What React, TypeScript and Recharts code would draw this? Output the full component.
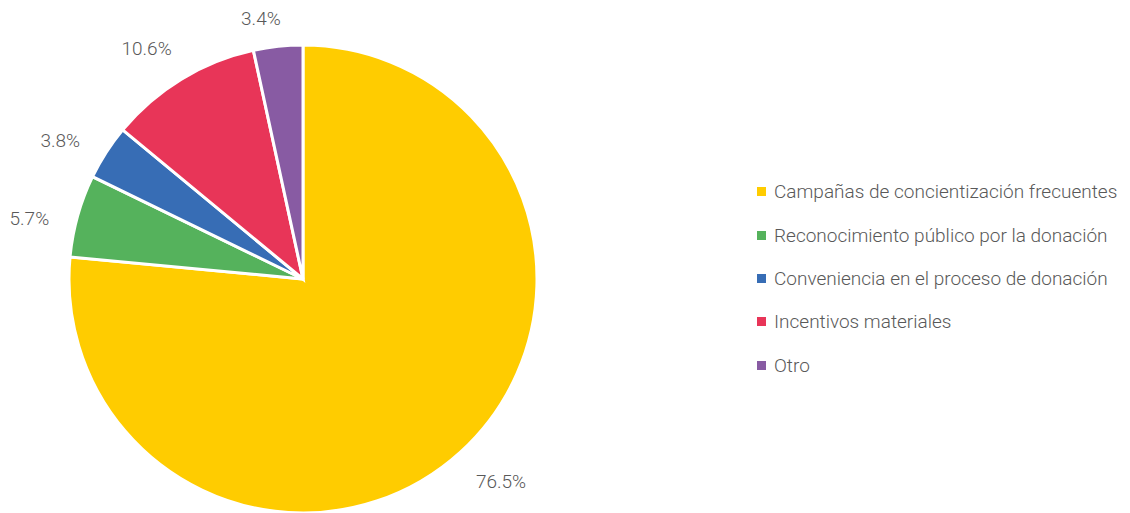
import React from "react";
import { PieChart, Pie, Cell, Legend } from "recharts";

const categories = [
  "Campañas de concientización frecuentes",
  "Reconocimiento público por la donación",
  "Conveniencia en el proceso de donación",
  "Incentivos materiales",
  "Otro",
];
const values = [76.5, 5.7, 3.8, 10.6, 3.4];
const colors = ["#FFCC00", "#55B25C", "#376DB5", "#E83558", "#885BA3"];

const data = categories.map((name, i) => ({ name, value: values[i] }));

const FONT = "Roboto, 'Noto Sans', sans-serif";
const TEXT = "#595959";
const RAD = Math.PI / 180;

const renderLabel = (props: any) => {
  const { cx, cy, midAngle, outerRadius, value } = props;
  const r = outerRadius + 47;
  const a = (midAngle + 2.5) * RAD;
  const x = cx + r * Math.cos(-a);
  let y = cy + r * Math.sin(-a) + 3;
  if (y < 18) y = 18;
  return (
    <text
      x={x}
      y={y}
      fill={TEXT}
      textAnchor="middle"
      dominantBaseline="central"
      fontSize={19}
      fontWeight={300}
      fontFamily={FONT}
    >
      {value.toFixed(1)}%
    </text>
  );
};

const renderLegend = () => {
  return (
    <div style={{ fontFamily: FONT, fontSize: 19, fontWeight: 300, color: TEXT }}>
      {categories.map((name, i) => (
        <div
          key={name}
          style={{ display: "flex", alignItems: "center", height: 43.4, whiteSpace: "nowrap" }}
        >
          <span
            style={{
              display: "inline-block",
              width: 9,
              height: 9,
              background: colors[i],
              marginRight: 8,
              flex: "none",
            }}
          />
          <span>{name}</span>
        </div>
      ))}
    </div>
  );
};

export default function App() {
  return (
    <div style={{ position: "absolute", left: 0, top: 0 }}>
      <PieChart
        width={1130}
        height={513}
        margin={{ top: 0, right: 0, bottom: 0, left: 0 }}
      >
        <Pie
          data={data}
          dataKey="value"
          nameKey="name"
          cx={303}
          cy={279}
          outerRadius={234}
          startAngle={90}
          endAngle={-270}
          stroke="#ffffff"
          strokeWidth={3}
          label={renderLabel}
          labelLine={false}
          isAnimationActive={false}
        >
          {data.map((d, i) => (
            <Cell key={d.name} fill={colors[i]} />
          ))}
        </Pie>
        <Legend
          layout="vertical"
          verticalAlign="top"
          align="right"
          content={renderLegend}
          wrapperStyle={{ left: 757, top: 170, width: 373, right: "auto" }}
        />
      </PieChart>
    </div>
  );
}
